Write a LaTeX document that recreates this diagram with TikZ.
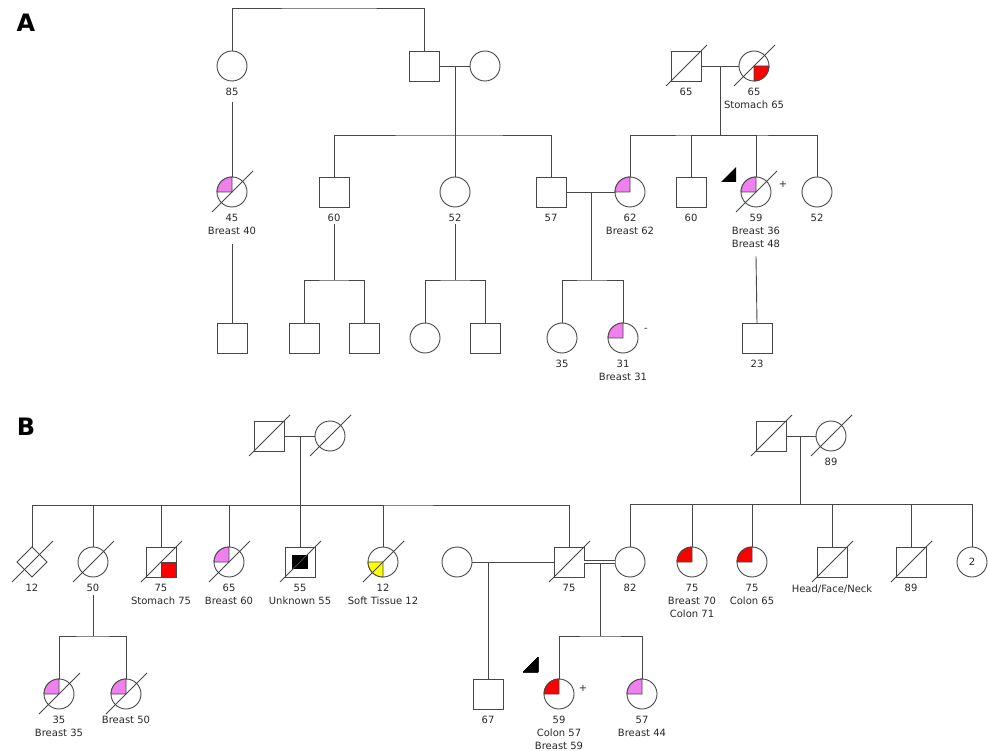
\documentclass[tikz,border=0pt]{standalone}
\usepackage{fontspec}
\setmainfont{DejaVu Sans}
\usetikzlibrary{positioning,shapes.geometric}
\definecolor{pgLine}{RGB}{70,70,70}
\definecolor{pgText}{RGB}{40,40,40}
\definecolor{pgPink}{RGB}{240,128,240}
\definecolor{pgRed}{RGB}{255,0,0}
\definecolor{pgYel}{RGB}{255,255,0}

% deceased slash through a symbol
\newcommand{\dead}[1]{\draw ([shift={(-20pt,-20pt)}]#1.center) -- ([shift={(21pt,21pt)}]#1.center);}
% quarter fills
\newcommand{\qUL}[2]{\filldraw[fill=#2] (#1.center) -- (#1.west) arc[start angle=180,end angle=90,radius=15pt] -- cycle;}
\newcommand{\qLR}[2]{\filldraw[fill=#2] (#1.center) -- (#1.east) arc[start angle=0,end angle=-90,radius=15pt] -- cycle;}
\newcommand{\qLL}[2]{\filldraw[fill=#2] (#1.center) -- (#1.west) arc[start angle=180,end angle=270,radius=15pt] -- cycle;}
\newcommand{\sqLR}[2]{\filldraw[fill=#2] (#1.center) rectangle (#1.south east);}

\begin{document}
\begin{tikzpicture}[x=1pt,y=-1pt,color=pgLine,line width=0.9pt,
  male/.style={draw, rectangle, minimum size=30pt, inner sep=0pt, outer sep=0pt},
  female/.style={draw, circle, minimum size=30pt, inner sep=0pt, outer sep=0pt},
  unknown/.style={draw, diamond, aspect=1, minimum size=30pt, inner sep=0pt, outer sep=0pt},
  lbl/.style={font=\fontsize{10}{13}\selectfont, text=pgText, align=center, inner sep=0pt, below=7pt of #1},
  sign/.style={font=\fontsize{10}{12}\selectfont, text=pgText, inner sep=0pt},
  panel/.style={font=\fontsize{24}{24}\selectfont\bfseries, text=black, inner sep=0pt}]
\useasboundingbox (0,0) rectangle (988,751);

%% ---------------- A ----------------
\node[panel] (labA) at (26,23) {A};

% generation I
\node[female] (a85) at (232,66) {};
\node[lbl=a85] (l85) {85};
\node[male] (aGF) at (424,66) {};
\node[female] (aGM) at (485,66) {};
\node[male] (aPF) at (686,66) {};
\node[lbl=aPF] (lPF) {65};
\node[female] (aPM) at (754,66) {};
\node[lbl=aPM] (lPM) {65\\Stomach 65};

% generation II
\node[female] (a45) at (232,192) {};
\node[lbl=a45] (l45) {45\\Breast 40};
\node[male] (a60) at (334,192) {};
\node[lbl=a60] (l60) {60};
\node[female] (a52) at (455,192) {};
\node[lbl=a52] (l52) {52};
\node[male] (a57) at (551,192) {};
\node[lbl=a57] (l57) {57};
\node[female] (a62) at (630,192) {};
\node[lbl=a62] (l62) {62\\Breast 62};
\node[male] (a60b) at (691,192) {};
\node[lbl=a60b] (l60b) {60};
\node[female] (a59) at (756,192) {};
\node[lbl=a59] (l59) {59\\Breast 36\\Breast 48};
\node[female] (a52b) at (817,192) {};
\node[lbl=a52b] (l52b) {52};

% generation III
\node[male] (c1) at (232,338) {};
\node[male] (c2) at (304,338) {};
\node[male] (c3) at (364,338) {};
\node[female] (c4) at (425,338) {};
\node[male] (c5) at (485,338) {};
\node[female] (a35) at (562,338) {};
\node[lbl=a35] (l35) {35};
\node[female] (a31) at (623,338) {};
\node[lbl=a31] (l31) {31\\Breast 31};
\node[male] (a23) at (757,338) {};
\node[lbl=a23] (l23) {23};

% lines of descent
\coordinate (topA) at (330,8);
\draw (a85.north) |- (topA) -| (aGF.north);
\draw (aGF) -- (aGM);
\coordinate (mA1) at (455,66);
\coordinate (sA1) at (455,135);
\draw (mA1) -- (sA1);
\draw (a60.north) |- (sA1) -| (a57.north);
\draw (a52.north) -- (sA1);
\draw (aPF) -- (aPM);
\coordinate (mA2) at (720,66);
\coordinate (sA2) at (720,135);
\draw (mA2) -- (sA2);
\draw (a62.north) |- (sA2) -| (a52b.north);
\draw (a60b.north) |- (sA2);
\draw (a59.north) |- (sA2);
\draw (a57) -- (a62);
\coordinate (mA3) at (591,192);
\coordinate (sA3) at (591,280);
\draw (mA3) -- (sA3);
\draw (a35.north) |- (sA3) -| (a31.north);
\draw ([yshift=-6pt]l85.south) -- (a45.north);
\draw ([yshift=-9pt]l45.south) -- (c1.north);
\coordinate (sA4) at (334,280);
\draw ([yshift=-2pt]l60.south) -- (sA4);
\draw (c2.north) |- (sA4) -| (c3.north);
\coordinate (sA5) at (455,280);
\draw ([yshift=-2pt]l52.south) -- (sA5);
\draw (c4.north) |- (sA5) -| (c5.north);
\draw ([yshift=-8pt]l59.south) -- (a23.north);

% affected and deceased
\qLR{aPM}{pgRed}
\qUL{a45}{pgPink}
\qUL{a62}{pgPink}
\qUL{a59}{pgPink}
\qUL{a31}{pgPink}
\dead{aPF} \dead{aPM} \dead{a45} \dead{a59}
\fill[black] ([shift={(-35pt,10pt)}]a59.center) -- ([shift={(-20pt,10pt)}]a59.center) -- ([shift={(-20pt,25pt)}]a59.center) -- cycle;
\node[sign] (pA) at ([shift={(27pt,8pt)}]a59.center) {+};
\node[sign] (nA) at ([shift={(23pt,8pt)}]a31.center) {-};

%% ---------------- B ----------------
\node[panel] (labB) at (26,427) {B};

% generation I
\node[male] (bGF) at (269,436) {};
\node[female] (bGM) at (330,436) {};
\node[male] (bMF) at (771,436) {};
\node[female] (bMM) at (831,436) {};
\node[lbl=bMM] (lMM) {89};

% generation II
\node[unknown] (b12) at (32,562) {};
\node[lbl=b12] (l12) {12};
\node[female] (b50) at (93,562) {};
\node[lbl=b50] (l50) {50};
\node[male] (b75s) at (161,562) {};
\node[lbl=b75s] (l75s) {75\\Stomach 75};
\node[female] (b65) at (229,562) {};
\node[lbl=b65] (l65) {65\\Breast 60};
\node[male] (b55) at (300,562) {};
\node[lbl=b55] (l55) {55\\Unknown 55};
\node[female] (b12b) at (383,562) {};
\node[lbl=b12b] (l12b) {12\\Soft Tissue 12};
\node[female] (bW) at (457,562) {};
\node[male] (b75) at (569,562) {};
\node[lbl=b75] (l75) {75};
\node[female] (b82) at (630,562) {};
\node[lbl=b82] (l82) {82};
\node[female] (b75c) at (692,562) {};
\node[lbl=b75c] (l75c) {75\\Breast 70\\Colon 71};
\node[female] (b75d) at (752,562) {};
\node[lbl=b75d] (l75d) {75\\Colon 65};
\node[male] (bHF) at (832,562) {};
\node[lbl=bHF] (lHF) {Head/Face/Neck};
\node[male] (b89) at (911,562) {};
\node[lbl=b89] (l89) {89};
\node[female, font=\fontsize{10}{12}\selectfont, text=pgText] (b2) at (972,562) {2};

% generation III
\node[female] (b35) at (59,694) {};
\node[lbl=b35] (l35b) {35\\Breast 35};
\node[female] (b50b) at (126,694) {};
\node[lbl=b50b] (l50b) {Breast 50};
\node[male] (b67) at (488,694) {};
\node[lbl=b67] (l67) {67};
\node[female] (b59) at (559,694) {};
\node[lbl=b59] (l59b) {59\\Colon 57\\Breast 59};
\node[female] (b57) at (642,694) {};
\node[lbl=b57] (l57b) {57\\Breast 44};

% lines of descent
\draw (bGF) -- (bGM);
\coordinate (mB1) at (300,436);
\coordinate (sB1) at (300,505);
\draw (mB1) -- (sB1);
\draw (b12.north) |- (sB1) -| (b75.north);
\foreach \k in {b50,b75s,b65,b12b} \draw (\k.north) |- (sB1);
\draw (b55.north) -- (sB1);
\draw (bMF) -- (bMM);
\coordinate (mB2) at (800,436);
\coordinate (sB2) at (800,504);
\draw (mB2) -- (sB2);
\draw (b82.north) |- (sB2) -| (b2.north);
\foreach \k in {b75c,b75d,bHF,b89} \draw (\k.north) |- (sB2);
\draw (bW) -- (b75);
\coordinate (mB3) at (488,562);
\draw (mB3) -- (b67.north);
\draw[double=white, double distance=1.6pt] (b75) -- (b82);
\coordinate (mB4) at (600,563.5);
\coordinate (sB4) at (600,636);
\draw (mB4) -- (sB4);
\draw (b59.north) |- (sB4) -| (b57.north);
\coordinate (sB5) at (93,636);
\draw ([yshift=-3pt]l50.south) -- (sB5);
\draw (b35.north) |- (sB5) -| (b50b.north);

% affected and deceased
\sqLR{b75s}{pgRed}
\qUL{b65}{pgPink}
\fill[black] ([shift={(-8pt,-7pt)}]b55.center) rectangle ([shift={(8pt,7pt)}]b55.center);
\qLL{b12b}{pgYel}
\qUL{b75c}{pgRed}
\qUL{b75d}{pgRed}
\qUL{b35}{pgPink}
\qUL{b50b}{pgPink}
\qUL{b59}{pgRed}
\qUL{b57}{pgPink}
\foreach \k in {bGF,bGM,bMF,bMM,b12,b50,b75s,b65,b55,b12b,b75,bHF,b89,b35,b50b} \dead{\k}
\fill[black] ([shift={(-36pt,22pt)}]b59.center) -- ([shift={(-21pt,22pt)}]b59.center) -- ([shift={(-21pt,37pt)}]b59.center) -- cycle;
\node[sign] (pB) at ([shift={(24pt,6pt)}]b59.center) {+};
\end{tikzpicture}
\end{document}
